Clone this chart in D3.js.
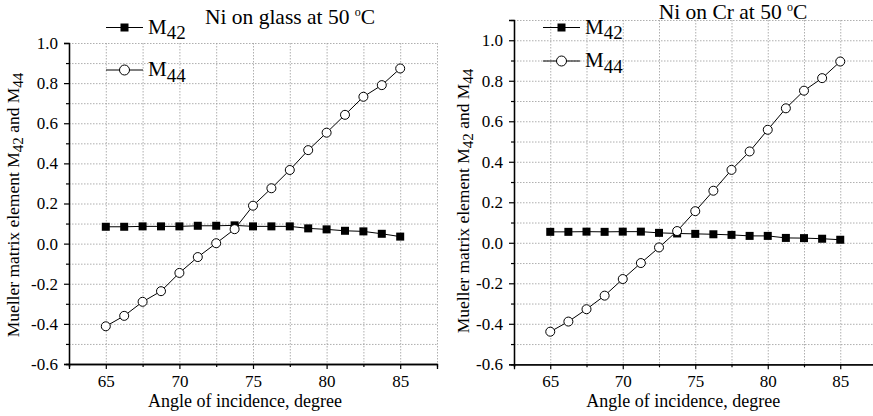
<!DOCTYPE html>
<html>
<head>
<meta charset="utf-8">
<script src="https://cdnjs.cloudflare.com/ajax/libs/d3/7.8.5/d3.min.js"></script>
<style>
  body { margin: 0; background: #fff; }
  svg text { font-family: "Liberation Serif", "Times New Roman", serif; }
</style>
</head>
<body>
<svg width="873" height="416"></svg>
<script>
'use strict';

// angle of incidence, degree (same grid for both samples)
var angles = [65, 66.25, 67.5, 68.75, 70, 71.25, 72.5, 73.75, 75, 76.25, 77.5, 78.75, 80, 81.25, 82.5, 83.75, 85];

// Ni on glass
var glassM42 = [0.084, 0.084, 0.086, 0.086, 0.086, 0.089, 0.089, 0.091, 0.086, 0.086, 0.086, 0.076, 0.071, 0.064, 0.061, 0.049, 0.035];
var glassM44 = [-0.412, -0.36, -0.29, -0.237, -0.146, -0.067, 0.002, 0.072, 0.189, 0.276, 0.367, 0.466, 0.553, 0.642, 0.732, 0.79, 0.873];

// Ni on Cr
var crM42 = [0.054, 0.054, 0.055, 0.054, 0.055, 0.055, 0.049, 0.046, 0.044, 0.042, 0.039, 0.034, 0.034, 0.024, 0.023, 0.020, 0.015];
var crM44 = [-0.439, -0.389, -0.328, -0.261, -0.179, -0.10, -0.023, 0.058, 0.156, 0.257, 0.36, 0.451, 0.558, 0.664, 0.751, 0.813, 0.895];

var xMajor = [65, 70, 75, 80, 85];
var xMinor = [62.5, 67.5, 72.5, 77.5, 82.5, 87.5];
var yMajor = [-0.6, -0.4, -0.2, 0.0, 0.2, 0.4, 0.6, 0.8, 1.0];

var svg = d3.select("svg");

function drawPanel(p) {
  var x = d3.scaleLinear().domain([62.5, 87.5]).range([p.left, p.right]);
  var y = d3.scaleLinear().domain([-0.6, p.yTop]).range([p.bottom, p.top]);
  var g = svg.append("g");

  var yMinor = d3.range(-5, Math.round(p.yTop * 10) + 1, 2).map(function (d) { return d / 10; });
  var yGrid = d3.range(-5, Math.round(p.yTop * 10) + 1).map(function (d) { return d / 10; });
  var xGrid = xMajor.concat(xMinor).filter(function (d) { return d > 62.5; });

  // dotted grid
  g.append("g").selectAll("line").data(yGrid).join("line")
    .attr("x1", p.left).attr("x2", p.right)
    .attr("y1", function (d) { return y(d) + 0.5; }).attr("y2", function (d) { return y(d) + 0.5; })
    .attr("stroke", "#9a9a9a").attr("stroke-width", 0.8).attr("stroke-dasharray", "1.5,1.5");
  g.append("g").selectAll("line").data(xGrid).join("line")
    .attr("x1", function (d) { return x(d) + 0.5; }).attr("x2", function (d) { return x(d) + 0.5; })
    .attr("y1", p.top).attr("y2", p.bottom)
    .attr("stroke", "#9a9a9a").attr("stroke-width", 0.8).attr("stroke-dasharray", "1.5,1.5");

  // axes
  var xAxis = d3.axisBottom(x).tickValues(xMajor).tickSize(5).tickPadding(6).tickFormat(d3.format("d"));
  var xAxisMinor = d3.axisBottom(x).tickValues(xMinor).tickSize(3).tickFormat("");
  var yAxis = d3.axisLeft(y).tickValues(yMajor).tickSize(5).tickPadding(6)
    .tickFormat(function (d) { return d.toFixed(1); });
  var yAxisMinor = d3.axisLeft(y).tickValues(yMinor).tickSize(3).tickFormat("");

  [
    g.append("g").attr("transform", "translate(0," + p.bottom + ")").call(xAxisMinor),
    g.append("g").attr("transform", "translate(0," + p.bottom + ")").call(xAxis),
    g.append("g").attr("transform", "translate(" + p.left + ",0)").call(yAxisMinor),
    g.append("g").attr("transform", "translate(" + p.left + ",0)").call(yAxis)
  ].forEach(function (a) {
    a.attr("font-family", null).attr("font-size", null);
    a.selectAll(".domain").attr("stroke", "#000").attr("stroke-width", 1.3);
    a.selectAll(".tick line").attr("stroke", "#000").attr("stroke-width", 1.2);
    a.selectAll("text").attr("font-size", 17).attr("fill", "#000");
    a.selectAll(".domain").attr("d", function () {
      return d3.select(this).attr("d").replace(/V6|H-6|V3|H-3/g, "").replace(/M[-\d.]+,6V/, "M").replace(/M-6,/, "M0,");
    });
  });

  // series
  var line = d3.line()
    .x(function (d) { return x(d[0]); })
    .y(function (d) { return y(d[1]); });
  var s42 = d3.zip(angles, p.m42), s44 = d3.zip(angles, p.m44);

  g.append("path").datum(s42).attr("d", line).attr("fill", "none").attr("stroke", "#000").attr("stroke-width", 1);
  g.append("path").datum(s44).attr("d", line).attr("fill", "none").attr("stroke", "#000").attr("stroke-width", 1);

  g.append("g").selectAll("rect").data(s42).join("rect")
    .attr("x", function (d) { return x(d[0]) - 4; })
    .attr("y", function (d) { return y(d[1]) - 4; })
    .attr("width", 8).attr("height", 8).attr("fill", "#000");
  g.append("g").selectAll("circle").data(s44).join("circle")
    .attr("cx", function (d) { return x(d[0]); })
    .attr("cy", function (d) { return y(d[1]); })
    .attr("r", 4.5).attr("fill", "#fff").attr("stroke", "#000").attr("stroke-width", 1);

  // legend
  var lg = g.append("g");
  [{ y: p.leg1, sub: "42", sq: true }, { y: p.leg2, sub: "44", sq: false }].forEach(function (l) {
    lg.append("line").attr("x1", p.legX).attr("x2", p.legX + 37)
      .attr("y1", l.y).attr("y2", l.y).attr("stroke", "#000").attr("stroke-width", 1);
    if (l.sq) {
      lg.append("rect").attr("x", p.legX + 14.5).attr("y", l.y - 4).attr("width", 8).attr("height", 8).attr("fill", "#000");
    } else {
      lg.append("circle").attr("cx", p.legX + 18.5).attr("cy", l.y).attr("r", 5)
        .attr("fill", "#fff").attr("stroke", "#000");
    }
    var t = lg.append("text").attr("x", p.legX + 42).attr("y", l.y + 6)
      .attr("font-size", 21).attr("fill", "#000");
    t.append("tspan").text("M");
    t.append("tspan").attr("dy", 5.5).attr("font-size", 19).text(l.sub);
  });

  // title
  var tt = g.append("text").attr("x", p.titleX).attr("y", p.titleY)
    .attr("text-anchor", "middle").attr("font-size", 21.5).attr("fill", "#000");
  tt.append("tspan").text(p.title + " at 50 ");
  tt.append("tspan").attr("dy", -8).attr("font-size", 12).text("o");
  tt.append("tspan").attr("dy", 8).text("C");

  // axis titles
  g.append("text").attr("x", (p.left + p.right) / 2 - p.xTitleShift).attr("y", 407)
    .attr("text-anchor", "middle").attr("font-size", 18).attr("fill", "#000")
    .text("Angle of incidence, degree");

  var yt = g.append("text")
    .attr("transform", "translate(" + p.yTitleX + "," + p.yTitleY + ") rotate(-90)")
    .attr("text-anchor", "middle").attr("font-size", 17.5).attr("fill", "#000");
  yt.append("tspan").text("Mueller matrix element M");
  yt.append("tspan").attr("dy", 4).attr("font-size", 15).text("42");
  yt.append("tspan").attr("dy", -4).text("  and  M");
  yt.append("tspan").attr("dy", 4).attr("font-size", 15).text("44");
}

drawPanel({
  left: 69, right: 437, top: 43, bottom: 364, yTop: 1.0,
  m42: glassM42, m44: glassM44,
  legX: 106, leg1: 27.5, leg2: 70,
  title: "Ni on glass", titleX: 290, titleY: 24,
  xTitleShift: 8, yTitleX: 19, yTitleY: 205
});

drawPanel({
  left: 514, right: 876.5, top: 20, bottom: 364.3, yTop: 1.1,
  m42: crM42, m44: crM44,
  legX: 543, leg1: 27.5, leg2: 61,
  title: "Ni on Cr", titleX: 733, titleY: 19,
  xTitleShift: 12, yTitleX: 469, yTitleY: 201
});
</script>
</body>
</html>
